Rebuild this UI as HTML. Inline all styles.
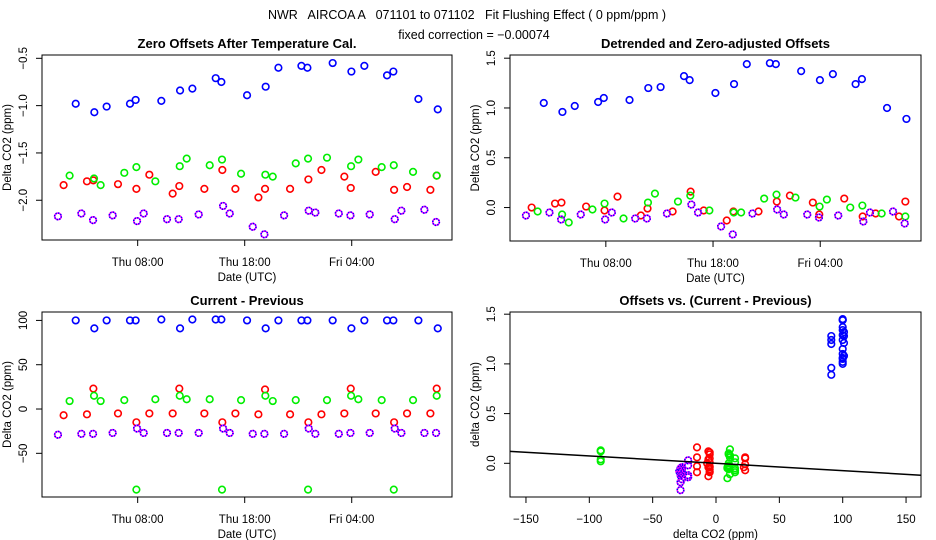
<!DOCTYPE html>
<html><head><meta charset="utf-8"><style>
html,body{margin:0;padding:0;background:#fff;}
svg{display:block;font-family:"Liberation Sans",sans-serif;}
</style></head><body>
<svg id="chart" width="936" height="540" viewBox="0 0 936 540" xmlns="http://www.w3.org/2000/svg">
<rect width="936" height="540" fill="#fff"/>
<text x="467" y="19" font-size="12.5" text-anchor="middle" xml:space="preserve">NWR   AIRCOA A   071101 to 071102   Fit Flushing Effect ( 0 ppm/ppm )</text>
<text x="474" y="39" font-size="12.5" text-anchor="middle">fixed correction = −0.00074</text>
<g id="plots"></g>
</svg>
<script>
// Time (hours since Thu 00:00 UTC) and values for each series
const blueT = [2.21,3.95,5.10,7.28,7.81,10.21,11.96,13.11,15.29,15.82,18.22,19.96,21.15,23.30,23.86,26.22,27.97,29.18,31.30,31.89,34.23,36.04];
const redT = [1.08,3.26,3.86,6.16,7.88,9.09,11.27,11.89,14.23,15.91,17.13,19.28,19.90,22.24,23.95,25.17,27.31,27.91,30.24,31.96,33.17,35.35,35.94];
const greenT = [1.64,3.92,4.54,6.75,7.88,9.65,11.93,12.58,14.73,15.88,17.66,19.93,20.62,22.77,23.92,25.69,27.94,28.62,30.80,31.93,33.73,35.94];
const magT = [0.55,2.74,3.83,5.66,7.94,8.56,10.74,11.83,13.70,15.98,16.60,18.75,19.84,21.68,23.98,24.60,26.79,27.88,29.68,32.02,32.64,34.79,35.88];

const blueZero = [-0.98,-1.07,-1.01,-0.98,-0.94,-0.95,-0.84,-0.82,-0.71,-0.75,-0.89,-0.80,-0.60,-0.58,-0.60,-0.55,-0.64,-0.58,-0.68,-0.64,-0.93,-1.04];
const redZero = [-1.84,-1.80,-1.79,-1.83,-1.88,-1.73,-1.93,-1.85,-1.88,-1.68,-1.88,-1.97,-1.88,-1.88,-1.78,-1.68,-1.75,-1.87,-1.70,-1.89,-1.86,-1.89,-1.74];
const greenZero = [-1.74,-1.77,-1.84,-1.71,-1.65,-1.80,-1.64,-1.56,-1.63,-1.57,-1.72,-1.73,-1.75,-1.61,-1.56,-1.55,-1.64,-1.57,-1.65,-1.63,-1.70,-1.74];
const magZero = [-2.17,-2.14,-2.21,-2.16,-2.22,-2.14,-2.20,-2.20,-2.15,-2.06,-2.14,-2.28,-2.36,-2.16,-2.11,-2.13,-2.14,-2.16,-2.15,-2.20,-2.11,-2.10,-2.23];

const blueDet = [1.05,0.96,1.02,1.06,1.10,1.08,1.20,1.21,1.32,1.28,1.15,1.24,1.44,1.45,1.44,1.37,1.28,1.34,1.24,1.29,1.00,0.89];
const redDet = [0.00,0.04,0.05,0.01,-0.03,0.11,-0.08,-0.01,-0.04,0.16,-0.03,-0.13,-0.04,-0.04,0.06,0.12,0.05,-0.07,0.09,-0.09,-0.06,-0.09,0.06];
const greenDet = [-0.04,-0.07,-0.15,-0.02,0.04,-0.11,0.05,0.14,0.06,0.12,-0.03,-0.05,-0.05,0.09,0.13,0.10,0.01,0.08,0.00,0.02,-0.06,-0.09];
const magDet = [-0.08,-0.05,-0.12,-0.07,-0.12,-0.05,-0.11,-0.11,-0.06,0.03,-0.05,-0.19,-0.27,-0.06,-0.02,-0.07,-0.07,-0.10,-0.08,-0.14,-0.05,-0.04,-0.16];

const blueDiff = [100,91,100,100,100,101,91,101,101,101,100,91,100,100,100,100,91,100,100,100,100,91];
const redDiff = [-7,-6,23,-5,-15,-5,-5,23,-5,-15,-5,-6,22,-6,-15,-6,-5,23,-5,-15,-5,-5,23];
const greenDiff = [9,15,9,10,-91,11,15,11,11,-91,10,15,9,10,-91,10,15,11,10,-91,10,15];
const magDiff = [-29,-28,-28,-27,-22,-27,-27,-27,-27,-22,-27,-28,-28,-28,-22,-28,-28,-27,-27,-22,-27,-27,-27];

const timeTicks = [8,18,28];
const timeTickLabels = ["Thu 08:00","Thu 18:00","Fri 04:00"];
const zeroTicks = [-0.5,-1.0,-1.5,-2.0];
const zeroTickLabels = ["-0.5","-1.0","-1.5","-2.0"];
const detTicks = [1.5,1.0,0.5,0.0];
const detTickLabels = ["1.5","1.0","0.5","0.0"];
const diffTicks = [100,50,0,-50];
const diffTickLabels = ["100","50","0","-50"];
const scatXTicks = [-150,-100,-50,0,50,100,150];
const scatXTickLabels = ["-150","-100","-50","0","50","100","150"];
const fixedCorrection = -0.00074;

const NS = "http://www.w3.org/2000/svg";
const root = document.getElementById('plots');
function mk(tag, attrs, parent){
  const e = document.createElementNS(NS, tag);
  for (const k in attrs) e.setAttribute(k, attrs[k]);
  (parent||root).appendChild(e);
  return e;
}
function lin(d0,d1,r0,r1){ return v => r0 + (v-d0)/(d1-d0)*(r1-r0); }
function fixMinus(s){ return s.replace(/-/g,'\u2212'); }

function panel(name, box, xdom, ydom, xt, xtl, yt, ytl, title, xlab, ylab){
  const g = mk('g',{});
  
  
  const sx = lin(xdom[0],xdom[1],box.l,box.r);
  const sy = lin(ydom[0],ydom[1],box.b,box.t);
  const fr = mk('rect',{x:box.l,y:box.t,width:box.r-box.l,height:box.b-box.t,fill:'none',stroke:'#000','stroke-width':1},g);
  
  
  const t = mk('text',{x:(box.l+box.r)/2,y:box.t-7,'font-size':13,'font-weight':'bold','text-anchor':'middle'},g);
  t.textContent = title;
  
  
  const xa = mk('g',{},g);
  
  
  xt.forEach((v,i)=>{
    const x = sx(v);
    mk('line',{x1:x,x2:x,y1:box.b,y2:box.b+6,stroke:'#000'},xa);
    const tl = mk('text',{x:x,y:box.b+26,'font-size':11.5,'text-anchor':'middle'},xa);
    tl.textContent = fixMinus(xtl[i]);
    
    
  });
  const xl = mk('text',{x:(box.l+box.r)/2,y:box.b+41,'font-size':11.5,'text-anchor':'middle'},g);
  xl.textContent = xlab;
  
  
  const ya = mk('g',{},g);
  
  
  yt.forEach((v,i)=>{
    const y = sy(v);
    mk('line',{x1:box.l-6,x2:box.l,y1:y,y2:y,stroke:'#000'},ya);
    const tl = mk('text',{x:box.l-15,y:y,'font-size':11.5,'text-anchor':'middle',transform:`rotate(-90 ${box.l-15} ${y})`},ya);
    tl.textContent = fixMinus(ytl[i]);
    
    
  });
  const yx = box.l-31, ymid=(box.t+box.b)/2;
  const yl = mk('text',{x:yx,y:ymid,'font-size':11.5,'text-anchor':'middle',transform:`rotate(-90 ${yx} ${ymid})`},g);
  yl.textContent = ylab;
  
  
  return {g,sx,sy,box};
}
function points(p, xs, ys, color, sname){
  const g = mk('g',{},p.g);
  
  
  xs.forEach((xv,i)=>{
    const cx = p.sx(xv), cy = p.sy(ys[i]);
    const c = mk('circle',{cx:cx,cy:cy,r:3.3,fill:'none',stroke:color==='mag'?'#ff00ff':color,'stroke-width':1.6},g);
    
    
    if (color==='mag'){
      const c2 = mk('circle',{cx:cx,cy:cy,r:3.3,fill:'none',stroke:'#0000ff','stroke-width':1.6,'stroke-dasharray':'1.2 1.4'},g);
      
      
    }
  });
}
const tdom = [-0.94, 37.37];
const p1 = panel('zero-offsets-panel',{l:42,r:452,t:55,b:240},tdom,[-2.42,-0.465],timeTicks,timeTickLabels,zeroTicks,zeroTickLabels,'Zero Offsets After Temperature Cal.','Date (UTC)','Delta CO2 (ppm)');
points(p1,blueT,blueZero,'#0000ff','blue-series');
points(p1,redT,redZero,'#ff0000','red-series');
points(p1,greenT,greenZero,'#00ee00','green-series');
points(p1,magT,magZero,'mag','magenta-series');

const p2 = panel('detrended-offsets-panel',{l:510,r:921,t:55,b:241},[-0.94,37.4],[-0.336,1.532],timeTicks,timeTickLabels,detTicks,detTickLabels,'Detrended and Zero-adjusted Offsets','Date (UTC)','Delta CO2 (ppm)');
points(p2,blueT,blueDet,'#0000ff','blue-series');
points(p2,redT,redDet,'#ff0000','red-series');
points(p2,greenT,greenDet,'#00ee00','green-series');
points(p2,magT,magDet,'mag','magenta-series');

const p3 = panel('current-minus-previous-panel',{l:42,r:452,t:312,b:497},tdom,[-99.3,109.5],timeTicks,timeTickLabels,diffTicks,diffTickLabels,'Current - Previous','Date (UTC)','Delta CO2 (ppm)');
points(p3,blueT,blueDiff,'#0000ff','blue-series');
points(p3,redT,redDiff,'#ff0000','red-series');
points(p3,greenT,greenDiff,'#00ee00','green-series');
points(p3,magT,magDiff,'mag','magenta-series');

const p4 = panel('offsets-vs-diff-panel',{l:510,r:921,t:312,b:497},[-162.6,161.8],[-0.339,1.522],scatXTicks,scatXTickLabels,detTicks,detTickLabels,'Offsets vs. (Current - Previous)','delta CO2 (ppm)','delta CO2 (ppm)');
points(p4,blueDiff,blueDet,'#0000ff','blue-series');
points(p4,redDiff,redDet,'#ff0000','red-series');
points(p4,greenDiff,greenDet,'#00ee00','green-series');
points(p4,magDiff,magDet,'mag','magenta-series');
const x0 = -162.6, x1 = 161.8;
const fl = mk('line',{x1:p4.sx(x0),y1:p4.sy(fixedCorrection*x0),x2:p4.sx(x1),y2:p4.sy(fixedCorrection*x1),stroke:'#000','stroke-width':1.5},p4.g);


</script>
</body></html>
